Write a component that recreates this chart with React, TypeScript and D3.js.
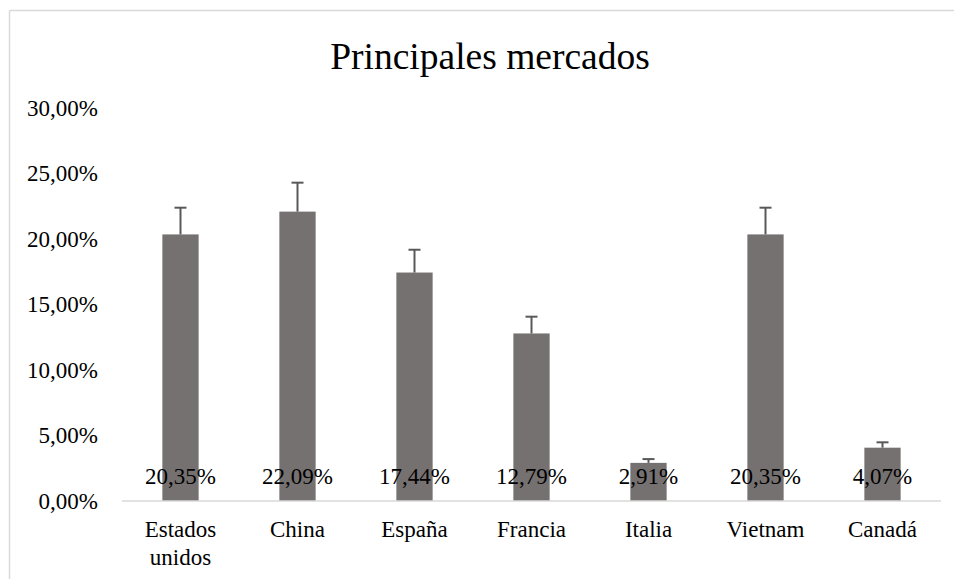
import React from "react";
import * as d3 from "d3";

const categories: string[][] = [
  ["Estados", "unidos"],
  ["China"],
  ["España"],
  ["Francia"],
  ["Italia"],
  ["Vietnam"],
  ["Canadá"],
];
const values = [20.35, 22.09, 17.44, 12.79, 2.91, 20.35, 4.07];
const errorPlus = [2.04, 2.21, 1.74, 1.28, 0.29, 2.04, 0.41];
const yTicks = [0, 5, 10, 15, 20, 25, 30];
const title = "Principales mercados";

const W = 954;
const H = 579;
const FONT = "Liberation Serif, serif";
const fmt = (v: number) => v.toFixed(2).replace(".", ",") + "%";

export default function App() {
  const x = d3
    .scaleBand<number>()
    .domain(d3.range(values.length))
    .range([122, 941])
    .paddingInner(0.69)
    .paddingOuter(0.345);
  const y = d3.scaleLinear().domain([0, 30]).range([501, 108]);
  const bw = x.bandwidth();
  const ts = { fontFamily: FONT };

  return (
    <svg
      width={W}
      height={H}
      style={{ position: "absolute", left: 0, top: 0, background: "#fff", fontFamily: FONT }}
    >
      <rect x={0} y={0} width={W} height={H} fill="#fff" />
      <line x1={9.5} y1={10.5} x2={W} y2={10.5} stroke="#d9d9d9" strokeWidth={1.5} />
      <line x1={9.5} y1={10.5} x2={9.5} y2={H} stroke="#d9d9d9" strokeWidth={1.5} />

      <text x={490} y={69} textAnchor="middle" fontSize={37.5} fill="#000" style={ts}>
        {title}
      </text>

      {yTicks.map((t) => (
        <text
          key={t}
          x={98}
          y={y(t) + 7.6}
          textAnchor="end"
          fontSize={23}
          fill="#000"
          style={ts}
        >
          {fmt(t)}
        </text>
      ))}

      {values.map((v, i) => {
        const x0 = x(i)!;
        const cx = x0 + bw / 2;
        const top = y(v + errorPlus[i]);
        return (
          <g key={i}>
            <rect x={x0} y={y(v)} width={bw} height={y(0) - y(v)} fill="#767171" />
            <line x1={cx} y1={y(v)} x2={cx} y2={top} stroke="#595959" strokeWidth={2} />
            <line x1={cx - 6} y1={top} x2={cx + 6} y2={top} stroke="#595959" strokeWidth={2} />
          </g>
        );
      })}

      <line x1={122} y1={501} x2={941} y2={501} stroke="#d9d9d9" strokeWidth={1.5} />

      {values.map((v, i) => (
        <text
          key={"l" + i}
          x={x(i)! + bw / 2}
          y={484}
          textAnchor="middle"
          fontSize={23}
          fill="#000"
          style={ts}
        >
          {fmt(v)}
        </text>
      ))}

      {categories.map((lines, i) => (
        <text
          key={"c" + i}
          x={x(i)! + bw / 2}
          y={537}
          textAnchor="middle"
          fontSize={23}
          fill="#000"
          style={ts}
        >
          {lines.map((ln, j) => (
            <tspan key={j} x={x(i)! + bw / 2} dy={j === 0 ? 0 : 27.5}>
              {ln}
            </tspan>
          ))}
        </text>
      ))}
    </svg>
  );
}
